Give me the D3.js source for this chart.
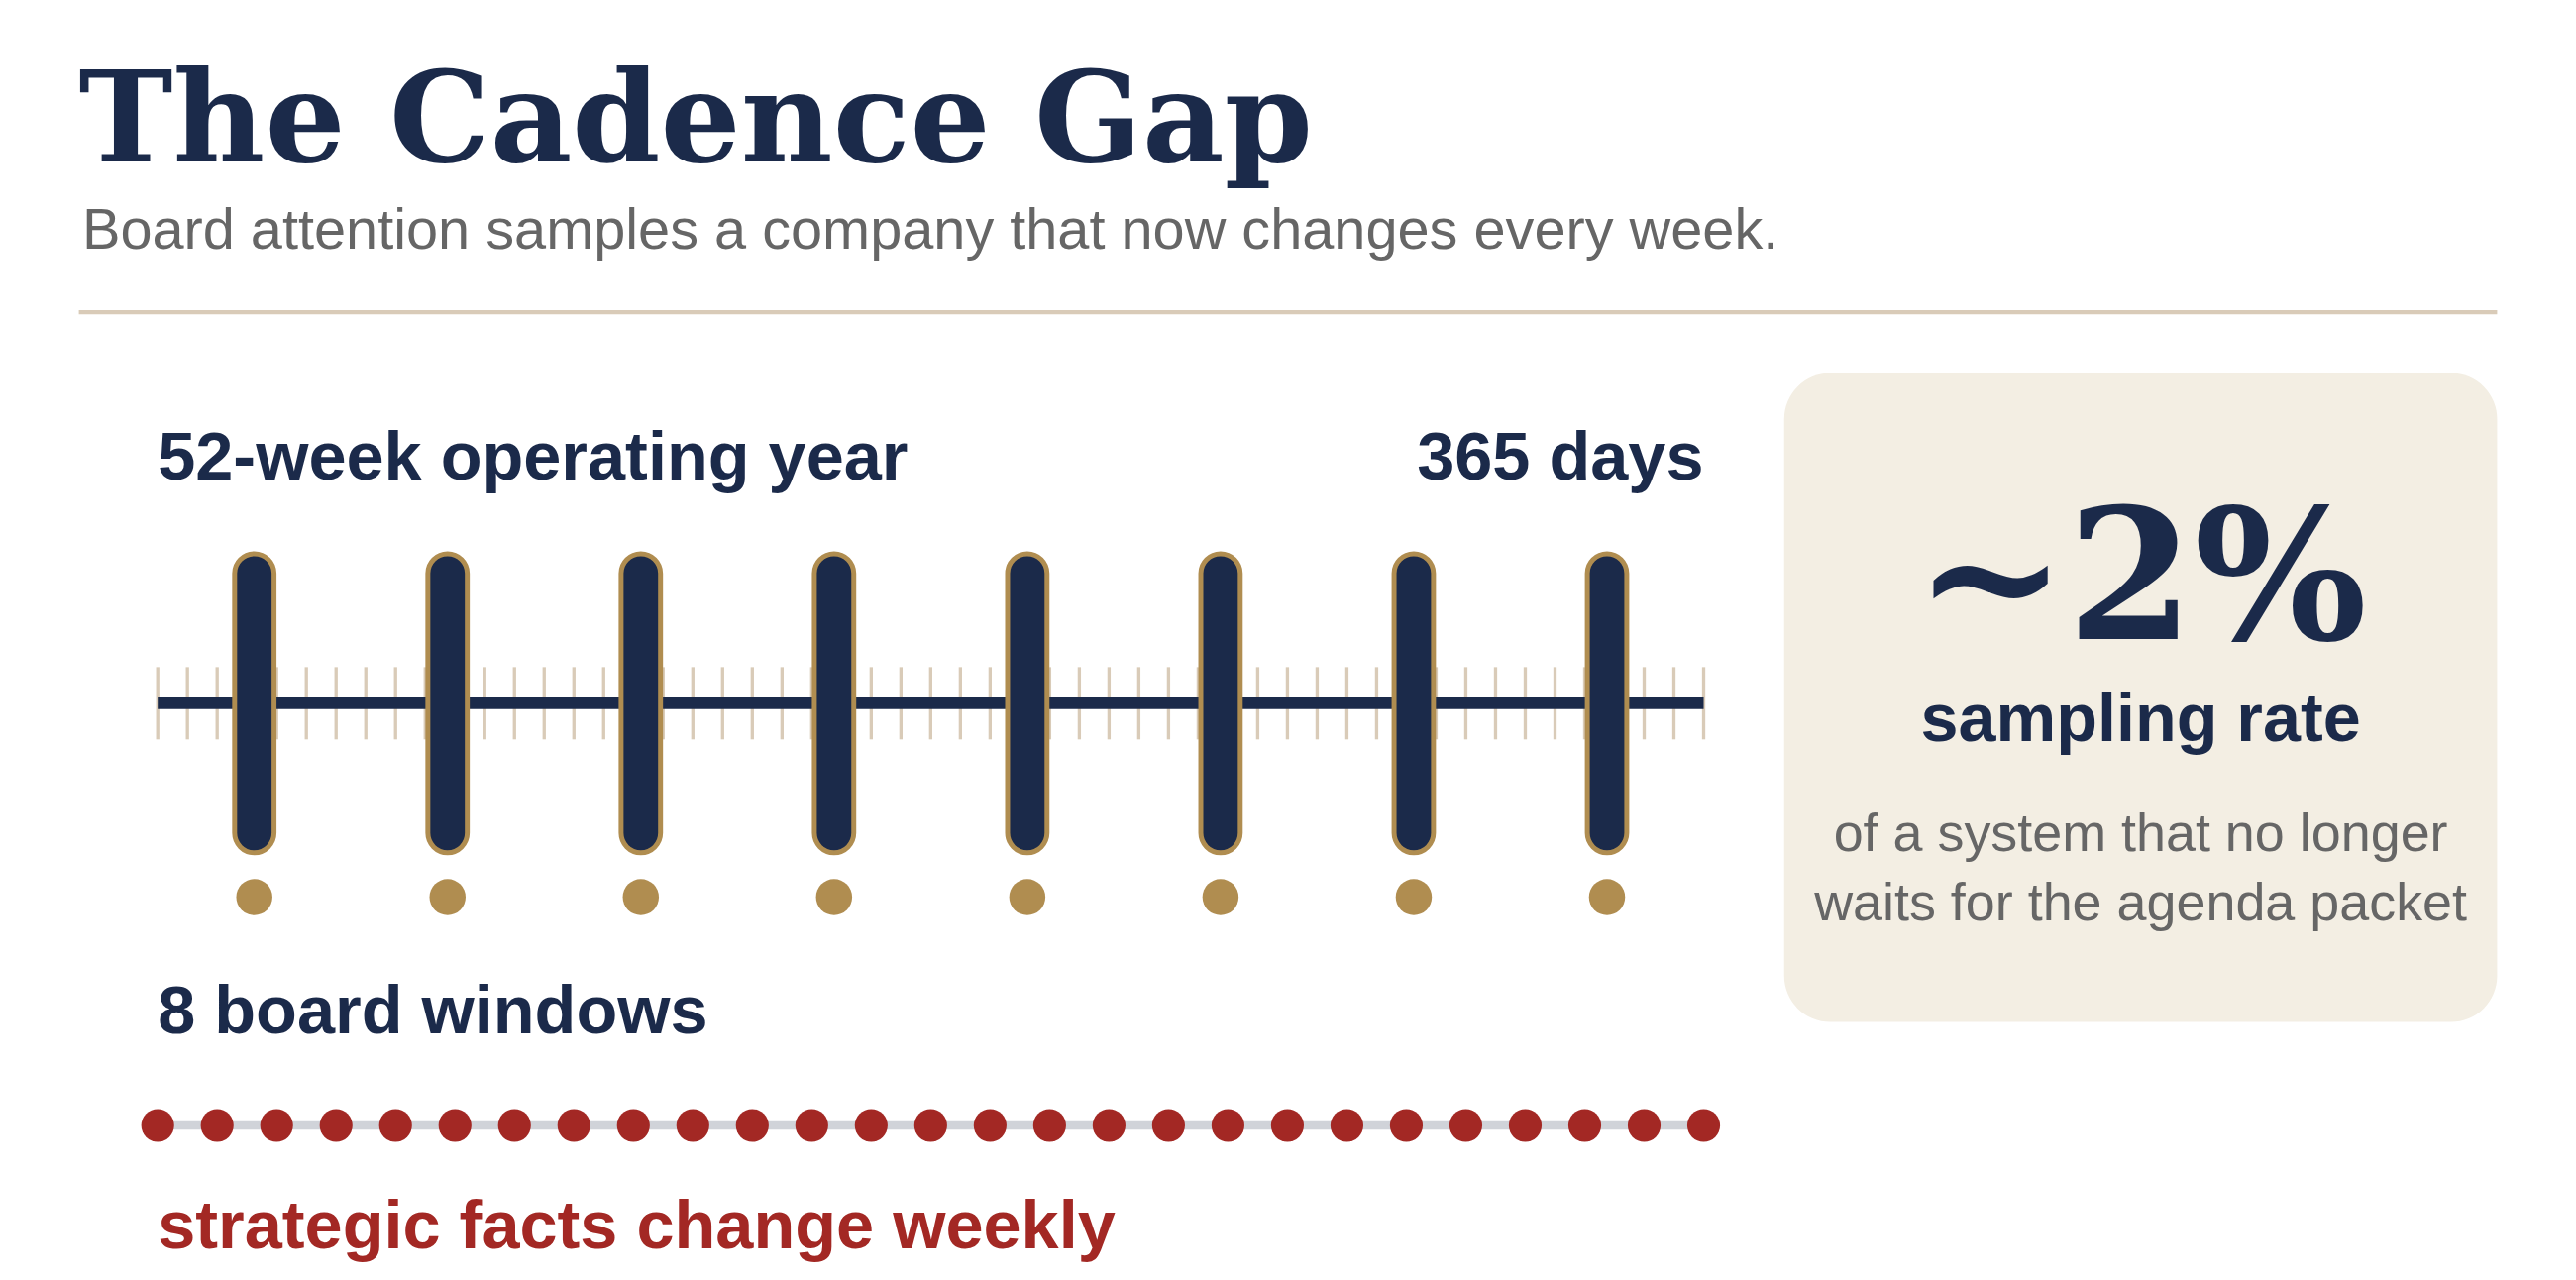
<!DOCTYPE html>
<html><head><meta charset="utf-8">
<script src="https://cdn.jsdelivr.net/npm/d3@7/dist/d3.min.js"></script>
<style>html,body{margin:0;padding:0;background:#fff;}</style>
</head><body>
<script>
const title = "The Cadence Gap";
const subtitle = "Board attention samples a company that now changes every week.";
const weekTicks = d3.range(0, 53);            // 0..52 week boundaries
const boardWindows = [3.25, 9.75, 16.25, 22.75, 29.25, 35.75, 42.25, 48.75]; // week positions
const factPoints = d3.range(0, 53, 2);        // 27 change markers
const labels = {year: "52-week operating year", days: "365 days", windows: "8 board windows", facts: "strategic facts change weekly"};
const stat = {value: "~2%", label: "sampling rate", note: ["of a system that no longer", "waits for the agenda packet"]};

const navy = "#1b2a4a", gold = "#b08d50", red = "#a32824", gray = "#666", sand = "#d9cbb8";
const svg = d3.select("body").append("svg").attr("width", 2600).attr("height", 1292)
  .attr("viewBox", "0 0 1568 779");
const sans = "Liberation Sans, Arial, sans-serif", serif = "DejaVu Serif, serif";

svg.append("text").attr("x", 48).attr("y", 98).attr("font-family", serif).attr("font-weight", "bold")
  .attr("font-size", 77).attr("fill", navy).text(title);
svg.append("text").attr("x", 50).attr("y", 151).attr("font-family", sans).attr("font-size", 34.8)
  .attr("fill", gray).text(subtitle);
svg.append("line").attr("x1", 48).attr("x2", 1520).attr("y1", 190).attr("y2", 190)
  .attr("stroke", sand).attr("stroke-width", 2.5);

const x = d3.scaleLinear().domain([0, 52]).range([96, 1037]);

svg.append("text").attr("x", 96).attr("y", 292).attr("font-family", sans).attr("font-weight", "bold")
  .attr("font-size", 41.3).attr("fill", navy).text(labels.year);
svg.append("text").attr("x", 1037).attr("y", 292).attr("text-anchor", "end").attr("font-family", sans)
  .attr("font-weight", "bold").attr("font-size", 41.3).attr("fill", navy).text(labels.days);

svg.selectAll(".wt").data(weekTicks).join("line").attr("x1", d => x(d)).attr("x2", d => x(d))
  .attr("y1", 406).attr("y2", 450).attr("stroke", sand).attr("stroke-width", 2);
svg.append("line").attr("x1", x(0)).attr("x2", x(52)).attr("y1", 428).attr("y2", 428)
  .attr("stroke", navy).attr("stroke-width", 7);

svg.selectAll(".bw").data(boardWindows).join("rect").attr("x", d => x(d) - 12).attr("y", 337)
  .attr("width", 24).attr("height", 182).attr("rx", 12).attr("fill", navy)
  .attr("stroke", gold).attr("stroke-width", 3);
svg.selectAll(".bd").data(boardWindows).join("circle").attr("cx", d => x(d)).attr("cy", 546)
  .attr("r", 11).attr("fill", gold);

svg.append("text").attr("x", 96).attr("y", 629).attr("font-family", sans).attr("font-weight", "bold")
  .attr("font-size", 41.3).attr("fill", navy).text(labels.windows);

svg.append("line").attr("x1", x(0)).attr("x2", x(52)).attr("y1", 685).attr("y2", 685)
  .attr("stroke", "#d0d3d9").attr("stroke-width", 5);
svg.selectAll(".fp").data(factPoints).join("circle").attr("cx", d => x(d)).attr("cy", 685)
  .attr("r", 10).attr("fill", red);
svg.append("text").attr("x", 96).attr("y", 760).attr("font-family", sans).attr("font-weight", "bold")
  .attr("font-size", 41.3).attr("fill", red).text(labels.facts);

svg.append("rect").attr("x", 1086).attr("y", 227).attr("width", 434).attr("height", 395)
  .attr("rx", 28).attr("fill", "#f3eee3");
const cx = 1303;
svg.append("text").attr("x", cx).attr("y", 389).attr("text-anchor", "middle").attr("font-family", serif)
  .attr("font-weight", "bold").attr("font-size", 111).attr("fill", navy).text(stat.value);
svg.append("text").attr("x", cx).attr("y", 451).attr("text-anchor", "middle").attr("font-family", sans)
  .attr("font-weight", "bold").attr("font-size", 41.2).attr("fill", navy).text(stat.label);
svg.selectAll(".nt").data(stat.note).join("text").attr("x", cx).attr("y", (d, i) => 518 + i * 42)
  .attr("text-anchor", "middle").attr("font-family", sans).attr("font-size", 32.5).attr("fill", gray).text(d => d);
</script>
</body></html>
